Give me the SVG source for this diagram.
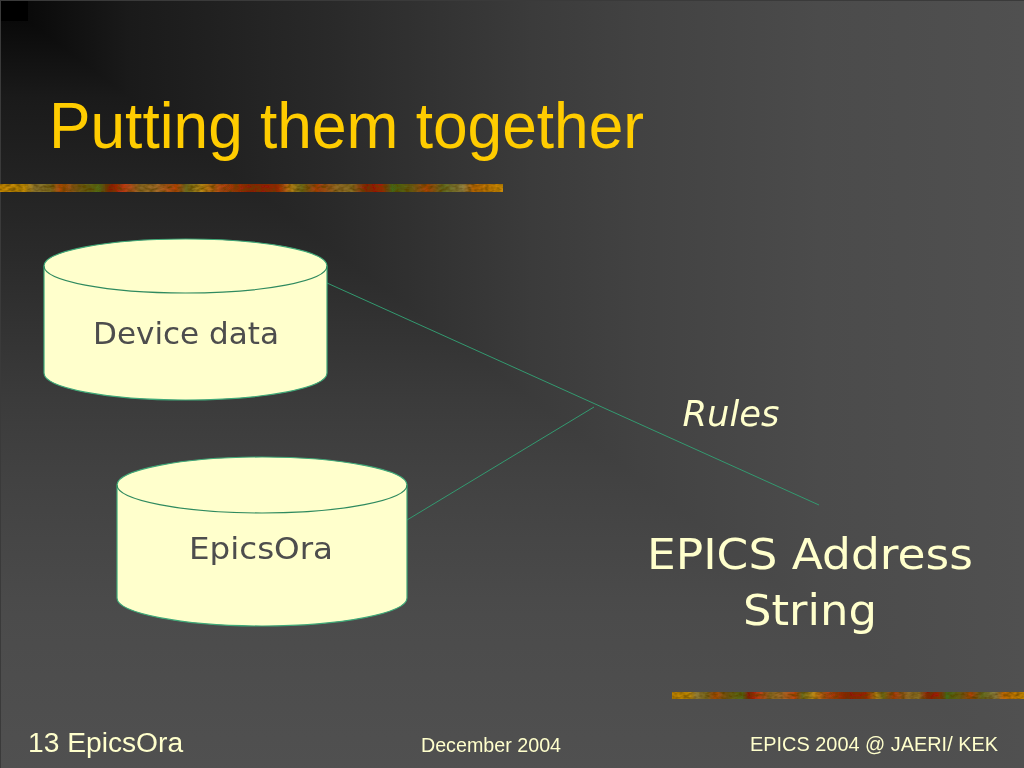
<svg xmlns="http://www.w3.org/2000/svg" width="1024" height="768" viewBox="0 0 1024 768">
<style>
.cyl{fill:#ffffcc;stroke:#3fa878;stroke-width:1.2}
.cap{fill:none;stroke:#2f8a5f;stroke-width:1.2}
.conn{fill:none;stroke:#339a70;stroke-width:1}
.hand{font-family:"DejaVu Sans",sans-serif}
.sans{font-family:"Liberation Sans",Arial,sans-serif}
.dark{fill:#4d4d4d;font-size:31px;text-anchor:middle}
.light{fill:#ffffcc;text-anchor:middle}
.foot{fill:#ffffcc}
</style>
<defs>
<linearGradient id="bgx" x1="0" y1="0" x2="1" y2="0">
<stop offset="0" stop-color="#050505"/><stop offset="0.127" stop-color="#1a1a1a"/><stop offset="0.33" stop-color="#2a2a2a"/><stop offset="0.52" stop-color="#3b3b3b"/><stop offset="0.625" stop-color="#424242"/><stop offset="0.8" stop-color="#4b4b4b"/><stop offset="1" stop-color="#505050"/>
</linearGradient>
<linearGradient id="bgy" x1="0" y1="0" x2="0" y2="1">
<stop offset="0" stop-color="#050505"/><stop offset="0.127" stop-color="#1a1a1a"/><stop offset="0.33" stop-color="#2a2a2a"/><stop offset="0.52" stop-color="#3b3b3b"/><stop offset="0.625" stop-color="#424242"/><stop offset="0.8" stop-color="#4b4b4b"/><stop offset="1" stop-color="#505050"/>
</linearGradient>
<linearGradient id="bar">
<stop offset="0" stop-color="#c98a10"/><stop offset="0.05" stop-color="#b8850f"/><stop offset="0.07" stop-color="#8f7a35"/><stop offset="0.1" stop-color="#7a6a20"/><stop offset="0.12" stop-color="#b04a10"/><stop offset="0.16" stop-color="#6d5a15"/><stop offset="0.2" stop-color="#4f6a1a"/><stop offset="0.22" stop-color="#8a1208"/><stop offset="0.25" stop-color="#c0401a"/><stop offset="0.28" stop-color="#8a6a25"/><stop offset="0.31" stop-color="#a06a2a"/><stop offset="0.35" stop-color="#b8420f"/><stop offset="0.37" stop-color="#6a6a20"/><stop offset="0.4" stop-color="#b8891a"/><stop offset="0.44" stop-color="#b04512"/><stop offset="0.5" stop-color="#8a1a10"/><stop offset="0.55" stop-color="#9a1a0c"/><stop offset="0.58" stop-color="#b8851a"/><stop offset="0.6" stop-color="#6a6a1a"/><stop offset="0.63" stop-color="#a83a10"/><stop offset="0.67" stop-color="#8f6a25"/><stop offset="0.7" stop-color="#8a7025"/><stop offset="0.73" stop-color="#8a1208"/><stop offset="0.76" stop-color="#a0200c"/><stop offset="0.78" stop-color="#3f6a1a"/><stop offset="0.82" stop-color="#6a5a15"/><stop offset="0.85" stop-color="#a8420f"/><stop offset="0.88" stop-color="#5f6a20"/><stop offset="0.92" stop-color="#8f8040"/><stop offset="0.94" stop-color="#b8650f"/><stop offset="1" stop-color="#c98a10"/>
</linearGradient>
<filter id="mottle" x="0" y="0" width="1" height="1">
<feTurbulence type="fractalNoise" baseFrequency="0.18 0.35" numOctaves="2" seed="4" result="n"/>
<feColorMatrix in="n" type="matrix" values="0 0 0 0 0.1  0 0 0 0 0.05  0 0 0 0 0  1.6 0 0 0 -0.5" result="d"/>
<feComposite in="d" in2="SourceGraphic" operator="in" result="m"/>
<feMerge><feMergeNode in="SourceGraphic"/><feMergeNode in="m"/></feMerge>
</filter>
</defs>
<rect width="1024" height="768" fill="url(#bgx)"/>
<rect width="1024" height="768" fill="url(#bgy)" style="mix-blend-mode:lighten"/>
<rect width="1" height="768" fill="#3a3a3a"/>
<rect width="1024" height="1" fill="#3a3a3a"/>
<rect x="1" y="1" width="27" height="20" fill="#000000"/>
<rect x="0" y="184" width="503" height="8" fill="url(#bar)" filter="url(#mottle)"/>
<rect x="672" y="692" width="352" height="7" fill="url(#bar)" filter="url(#mottle)"/>
<text id="title" class="sans" x="49" y="148" font-size="64" fill="#ffcc00" textLength="595" lengthAdjust="spacingAndGlyphs">Putting them together</text>
<g id="connectors">
<line class="conn" x1="327" y1="283" x2="819" y2="505"/>
<line class="conn" x1="407" y1="520" x2="594" y2="407"/>
</g>
<g id="device-data">
<path class="cyl" d="M44 266C44 251 107 239 185.500 239S327 251 327 266V373C327 388 264 400 185.500 400S44 388 44 373Z"/>
<path class="cap" d="M44 266C44 281 107 293 185.500 293S327 281 327 266"/>
<text class="hand dark" x="186" y="344" textLength="186" lengthAdjust="spacingAndGlyphs">Device data</text>
</g>
<g id="epicsora">
<path class="cyl" d="M117 485C117 470 182 457 262 457S407 470 407 485V598C407 613 342 626 262 626S117 613 117 598Z"/>
<path class="cap" d="M117 485C117 500 182 513 262 513S407 500 407 485"/>
<text class="hand dark" x="261" y="559" textLength="144" lengthAdjust="spacingAndGlyphs">EpicsOra</text>
</g>
<text id="rules" class="hand light" x="731" y="426" font-size="35" font-style="italic" textLength="97" lengthAdjust="spacingAndGlyphs">Rules</text>
<g id="epics-address">
<text class="hand light" x="810" y="569" font-size="42" textLength="326" lengthAdjust="spacingAndGlyphs">EPICS Address</text>
<text class="hand light" x="810" y="625" font-size="42" textLength="134" lengthAdjust="spacingAndGlyphs">String</text>
</g>
<text class="sans foot" x="28" y="752" font-size="28.2">13 EpicsOra</text>
<text class="sans foot" x="491" y="752" font-size="19.7" text-anchor="middle">December 2004</text>
<text class="sans foot" x="998" y="751" font-size="19.9" text-anchor="end">EPICS 2004 @ JAERI/ KEK</text>
</svg>
